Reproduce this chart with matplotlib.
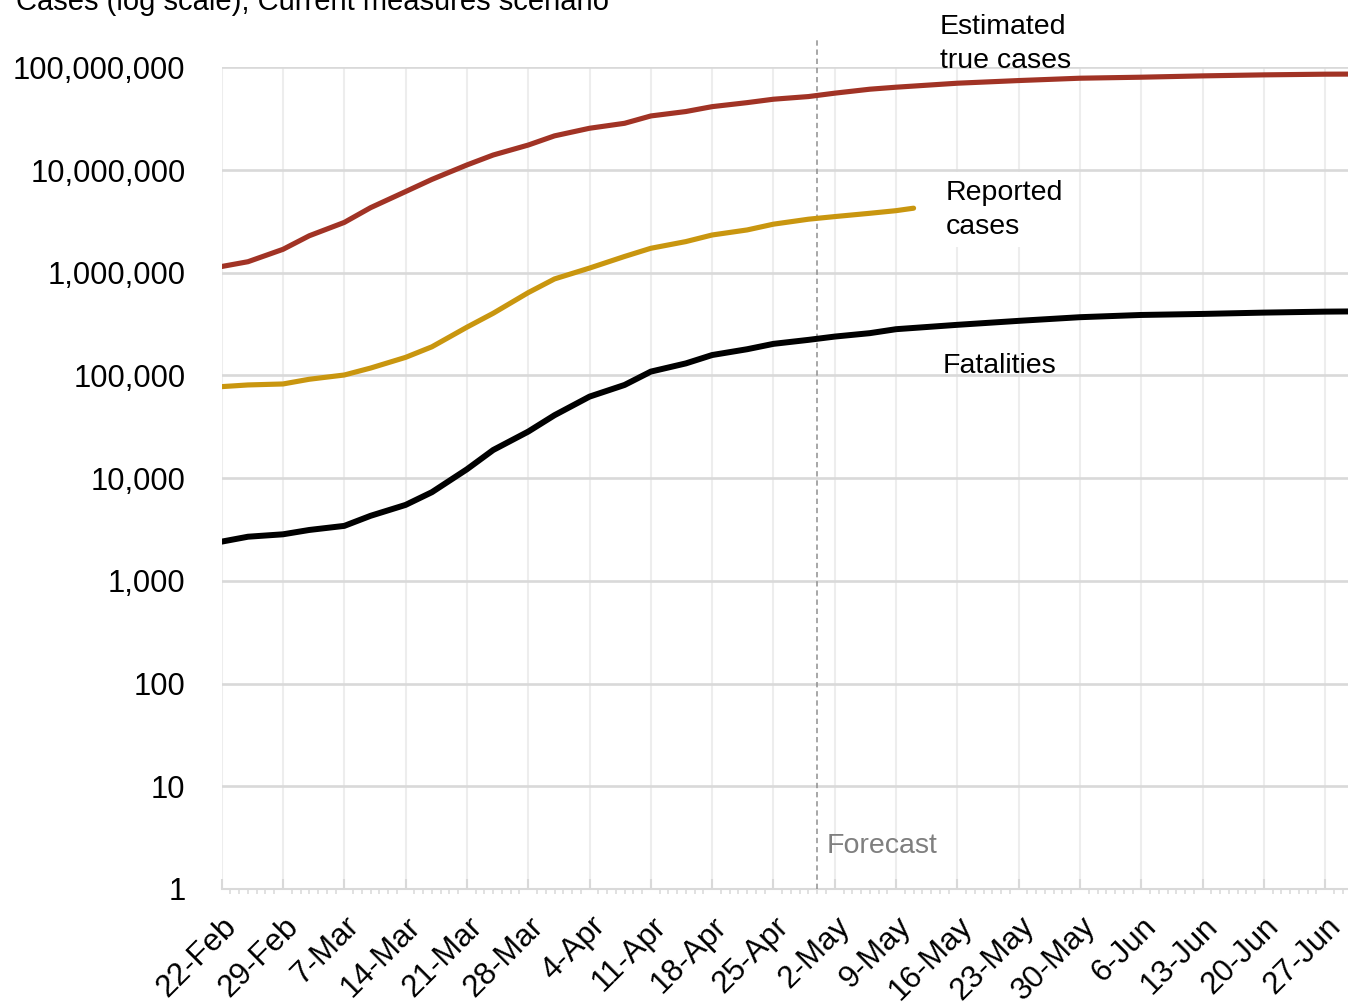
import matplotlib
matplotlib.use("Agg")
import matplotlib.pyplot as plt
import matplotlib.dates as mdates
from matplotlib.ticker import NullLocator
from matplotlib.transforms import ScaledTranslation
import pandas as pd

plt.rcParams["font.family"] = ["Liberation Sans", "DejaVu Sans"]

# ---- data -------------------------------------------------------------
true_dates = ["2020-02-22", "2020-02-25", "2020-02-29", "2020-03-03", "2020-03-07",
              "2020-03-10", "2020-03-14", "2020-03-17", "2020-03-21", "2020-03-24",
              "2020-03-28", "2020-03-31", "2020-04-04", "2020-04-08", "2020-04-11",
              "2020-04-15", "2020-04-18", "2020-04-22", "2020-04-25", "2020-04-29",
              "2020-05-02", "2020-05-06", "2020-05-09", "2020-05-16", "2020-05-23",
              "2020-05-30", "2020-06-06", "2020-06-13", "2020-06-20", "2020-06-27",
              "2020-06-30"]
true_cases = [1.15e6, 1.28e6, 1.69e6, 2.29e6, 3.09e6,
              4.3e6, 6.17e6, 8.1e6, 11.2e6, 14.0e6,
              17.5e6, 21.5e6, 25.5e6, 28.5e6, 33.6e6,
              37.1e6, 41.4e6, 45.3e6, 48.9e6, 51.9e6,
              56.0e6, 61.2e6, 64.0e6, 70.0e6, 74.3e6,
              78.3e6, 80.1e6, 82.5e6, 84.4e6, 85.7e6,
              85.9e6]

reported_dates = ["2020-02-22", "2020-02-25", "2020-02-29", "2020-03-03", "2020-03-07",
                  "2020-03-10", "2020-03-14", "2020-03-17", "2020-03-21", "2020-03-24",
                  "2020-03-28", "2020-03-31", "2020-04-04", "2020-04-08", "2020-04-11",
                  "2020-04-15", "2020-04-18", "2020-04-22", "2020-04-25", "2020-04-29",
                  "2020-05-02", "2020-05-06", "2020-05-09", "2020-05-11"]
reported_cases = [77.8e3, 80.8e3, 82.6e3, 91.8e3, 101e3,
                  118e3, 150e3, 190e3, 295e3, 403e3,
                  640e3, 870e3, 1.11e6, 1.44e6, 1.73e6,
                  2.01e6, 2.33e6, 2.61e6, 2.97e6, 3.32e6,
                  3.52e6, 3.79e6, 4.02e6, 4.25e6]

fatal_dates = ["2020-02-22", "2020-02-25", "2020-02-29", "2020-03-03", "2020-03-07",
               "2020-03-10", "2020-03-14", "2020-03-17", "2020-03-21", "2020-03-24",
               "2020-03-28", "2020-03-31", "2020-04-04", "2020-04-08", "2020-04-11",
               "2020-04-15", "2020-04-18", "2020-04-22", "2020-04-25", "2020-04-29",
               "2020-05-02", "2020-05-06", "2020-05-09", "2020-05-16", "2020-05-23",
               "2020-05-30", "2020-06-06", "2020-06-13", "2020-06-20", "2020-06-27",
               "2020-06-30"]
fatalities = [2.41e3, 2.69e3, 2.84e3, 3.13e3, 3.43e3,
              4.3e3, 5.49e3, 7.3e3, 12.2e3, 18.8e3,
              28.4e3, 41e3, 62.2e3, 80.8e3, 109e3,
              131e3, 158e3, 180e3, 203e3, 222e3,
              239e3, 258e3, 282e3, 311e3, 340e3,
              369e3, 388e3, 397e3, 409e3, 418e3,
              420e3]

forecast_start = "2020-04-30"

tick_dates = ["2020-02-22", "2020-02-29", "2020-03-07", "2020-03-14", "2020-03-21",
              "2020-03-28", "2020-04-04", "2020-04-11", "2020-04-18", "2020-04-25",
              "2020-05-02", "2020-05-09", "2020-05-16", "2020-05-23", "2020-05-30",
              "2020-06-06", "2020-06-13", "2020-06-20", "2020-06-27"]
tick_labels = ["22-Feb", "29-Feb", "7-Mar", "14-Mar", "21-Mar", "28-Mar", "4-Apr",
               "11-Apr", "18-Apr", "25-Apr", "2-May", "9-May", "16-May", "23-May",
               "30-May", "6-Jun", "13-Jun", "20-Jun", "27-Jun"]

y_ticks = [1, 10, 100, 1e3, 1e4, 1e5, 1e6, 1e7, 1e8]
y_labels = ["1", "10", "100", "1,000", "10,000", "100,000", "1,000,000",
            "10,000,000", "100,000,000"]

# ---- figure ------------------------------------------------------------
W, H = 1348, 1007
fig = plt.figure(figsize=(W / 100, H / 100), dpi=100)
ax_left, ax_right, ax_top, ax_bottom = 221.7, 1348, 67.3, 889.0
ax = fig.add_axes([ax_left / W, 1 - ax_bottom / H,
                   (ax_right - ax_left) / W, (ax_bottom - ax_top) / H])

RED = "#A13325"
GOLD = "#C9960F"
GRID_H = "#D9D9D9"
GRID_V = "#EDEDED"

ax.plot(pd.to_datetime(true_dates), true_cases, color=RED, lw=3.7,
        solid_capstyle="round", solid_joinstyle="round", zorder=4)
ax.plot(pd.to_datetime(reported_dates), reported_cases, color=GOLD, lw=3.7,
        solid_capstyle="round", solid_joinstyle="round", zorder=4)
ax.plot(pd.to_datetime(fatal_dates), fatalities, color="black", lw=4.3,
        solid_capstyle="round", solid_joinstyle="round", zorder=4)

ax.set_yscale("log")
ax.set_ylim(1, 1e8)
x0 = pd.Timestamp("2020-02-22")
ax.set_xlim(x0, x0 + pd.Timedelta(days=128.6))

# y axis
ax.set_yticks(y_ticks)
ax.set_yticklabels(y_labels)
ax.yaxis.set_minor_locator(NullLocator())
ax.tick_params(axis="y", length=0, pad=26, labelsize=22.3, labelcolor="black")

# x axis
ax.set_xticks(pd.to_datetime(tick_dates))
ax.set_xticklabels(tick_labels, rotation=45, ha="right", va="top",
                   rotation_mode="anchor")
ax.xaxis.set_minor_locator(mdates.DayLocator())
ax.tick_params(axis="x", which="major", direction="in", length=7.2, width=1.5,
               color=GRID_H, pad=16, labelsize=22.5)
ax.tick_params(axis="x", which="minor", direction="out", length=3.6, width=1.1,
               color=GRID_H)
shift = ScaledTranslation(0.0, 0, fig.dpi_scale_trans)
for lab in ax.get_xticklabels():
    lab.set_transform(lab.get_transform() + shift)

# grid and spines
ax.grid(axis="y", which="major", color=GRID_H, lw=1.9, zorder=1)
ax.grid(axis="x", which="major", color=GRID_V, lw=1.5, zorder=0)
ax.set_axisbelow(True)
for side in ("top", "right", "left"):
    ax.spines[side].set_visible(False)
ax.spines["bottom"].set_color(GRID_H)
ax.spines["bottom"].set_linewidth(1.5)

# forecast marker
ax.axvline(pd.Timestamp(forecast_start), ymin=0, ymax=1.036, clip_on=False,
           color="#8F8F8F", lw=1.1, ls=(0, (3.5, 2.5)), zorder=3)


def px(x, y):
    """Convert figure pixel coordinates (origin top-left) to axes fractions."""
    return (x - ax_left) / (ax_right - ax_left), (ax_bottom - y) / (ax_bottom - ax_top)


# multi-line labels are positioned by the baseline of their last line
ann_kw = dict(transform=ax.transAxes, fontsize=20.5, ha="left", va="baseline",
              linespacing=1.42, clip_on=False, zorder=5)
ax.text(*px(940, 68.3), "Estimated\ntrue cases", **ann_kw)
ax.text(*px(946, 234), "Reported\ncases",
        bbox=dict(boxstyle="square,pad=0.25", fc="white", ec="none"), **ann_kw)
ax.text(*px(943, 372.7), "Fatalities", **ann_kw)
ax.text(*px(826.5, 853.3), "Forecast", transform=ax.transAxes, fontsize=20.5,
        ha="left", va="baseline", color="#7F7F7F", zorder=5)

fig.text(15.5 / W, 1 - 10 / H, "Cases (log scale), Current measures scenario",
         fontsize=21, ha="left", va="baseline")

fig.savefig("out.png", dpi=100)
